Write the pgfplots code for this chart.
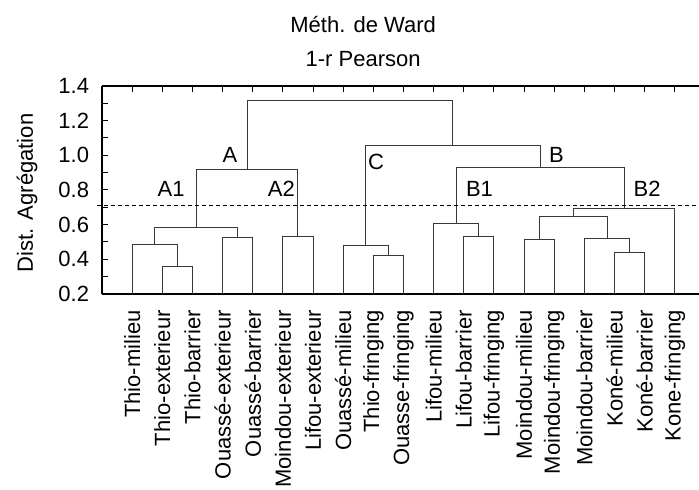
\documentclass[border=0pt]{standalone}
\usepackage{fontspec}
\setmainfont{Liberation Sans}
\usepackage{pgfplots}
\pgfplotsset{compat=1.18}
\newcommand\fs{\fontsize{11}{13.2}\selectfont}
\begin{document}
\fs
\begin{tikzpicture}
\begin{axis}[
    name=ax,
    scale only axis,
    width=298.5pt, height=104pt,
    xmin=0, xmax=19.8,
    ymin=0.2, ymax=1.4,
    axis x line*=box, axis y line*=left,
    tick align=inside,
    major tick length=3pt, minor tick length=3pt,
    xtick={1,...,19},
    xticklabels={Thio-milieu,Thio-exterieur,Thio-barrier,Ouassé-exterieur,
        Ouassé-barrier,Moindou-exterieur,Lifou-exterieur,Ouassé-milieu,
        Thio-fringing,Ouasse-fringing,Lifou-milieu,Lifou-barrier,Lifou-fringing,
        Moindou-milieu,Moindou-fringing,Moindou-barrier,Koné-milieu,
        Koné-barrier,Kone-fringing},
    xticklabel style={rotate=90, anchor=east},
    xticklabel shift=4.3pt,
    ytick={0.2,0.4,0.6,0.8,1.0,1.2,1.4},
    minor y tick num=1,
    yticklabel shift=2.6pt,
    yticklabel style={/pgf/number format/fixed,
        /pgf/number format/fixed zerofill,
        /pgf/number format/precision=1},
    /pgf/number format/assume math mode=true,
    tick label style={font=\fs},
    axis line style={line width=0.6pt},
    tick style={line width=0.5pt, black},
    clip=false,
    tree/.style={black!78, line width=0.5pt, mark=none},
]
% merges: left child, height, right child
\addplot[tree] coordinates {(2,0.2) (2,0.361) (3,0.361) (3,0.2)};
\addplot[tree] coordinates {(1,0.2) (1,0.484) (2.5,0.484) (2.5,0.361)};
\addplot[tree] coordinates {(4,0.2) (4,0.527) (5,0.527) (5,0.2)};
\addplot[tree] coordinates {(1.75,0.484) (1.75,0.585) (4.5,0.585) (4.5,0.527)};
\addplot[tree] coordinates {(6,0.2) (6,0.534) (7,0.534) (7,0.2)};
\addplot[tree] coordinates {(3.125,0.585) (3.125,0.919) (6.5,0.919) (6.5,0.534)};
\addplot[tree] coordinates {(9,0.2) (9,0.423) (10,0.423) (10,0.2)};
\addplot[tree] coordinates {(8,0.2) (8,0.481) (9.5,0.481) (9.5,0.423)};
\addplot[tree] coordinates {(12,0.2) (12,0.530) (13,0.530) (13,0.2)};
\addplot[tree] coordinates {(11,0.2) (11,0.604) (12.5,0.604) (12.5,0.530)};
\addplot[tree] coordinates {(14,0.2) (14,0.515) (15,0.515) (15,0.2)};
\addplot[tree] coordinates {(17,0.2) (17,0.438) (18,0.438) (18,0.2)};
\addplot[tree] coordinates {(16,0.2) (16,0.523) (17.5,0.523) (17.5,0.438)};
\addplot[tree] coordinates {(14.5,0.515) (14.5,0.646) (16.75,0.646) (16.75,0.523)};
\addplot[tree] coordinates {(15.625,0.646) (15.625,0.692) (19,0.692) (19,0.2)};
\addplot[tree] coordinates {(11.75,0.604) (11.75,0.931) (17.3125,0.931) (17.3125,0.692)};
\addplot[tree] coordinates {(8.75,0.481) (8.75,1.058) (14.53125,1.058) (14.53125,0.931)};
\addplot[tree] coordinates {(4.8125,0.919) (4.8125,1.315) (11.640625,1.315) (11.640625,1.058)};
% cut level
\addplot[black, line width=0.5pt, mark=none, dash pattern=on 2pt off 1.5pt]
    coordinates {(-0.17,0.712) (19.8,0.712)};

\node[font=\fs, anchor=base] at (axis cs:4.245,0.956) {A};
\node[font=\fs, anchor=base] at (axis cs:2.29,0.760) {A1};
\node[font=\fs, anchor=base] at (axis cs:5.95,0.760) {A2};
\node[font=\fs, anchor=base] at (axis cs:9.09,0.921) {C};
\node[font=\fs, anchor=base] at (axis cs:15.07,0.956) {B};
\node[font=\fs, anchor=base] at (axis cs:12.52,0.760) {B1};
\node[font=\fs, anchor=base] at (axis cs:18.08,0.760) {B2};

\node[font=\fs, anchor=base] at (axis cs:8.66,1.706) {Méth. de Ward};
\node[font=\fs, anchor=base] at (axis cs:8.66,1.510) {1-r Pearson};
\node[font=\fs, rotate=90, anchor=base] at (axis cs:-2.29,0.783) {Dist. Agrégation};
\end{axis}
\pgfresetboundingbox
\path[use as bounding box] (ax.south west) ++(-51pt,-98pt) rectangle ++(349.5pt,245pt);
\end{tikzpicture}
\end{document}
